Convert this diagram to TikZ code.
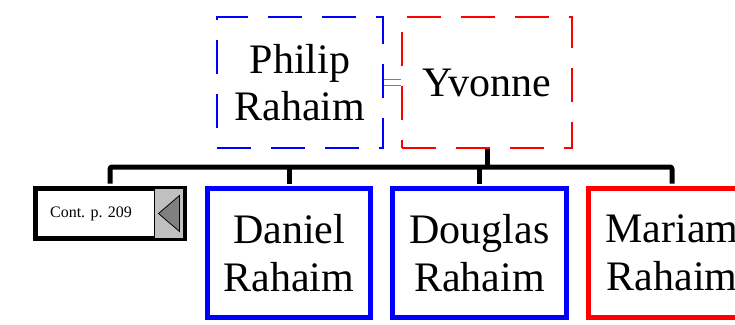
\documentclass[tikz,border=0pt]{standalone}
\usepackage{fontspec}
\setmainfont{Liberation Serif}
\usepackage{xcolor}
\usepackage{tikz}
\usetikzlibrary{calc}
\definecolor{fmblue}{RGB}{0,0,255}
\definecolor{fmred}{RGB}{255,0,0}
\definecolor{fmbox}{RGB}{192,192,192}
\definecolor{fmarrow}{RGB}{128,128,128}

\begin{document}
\begin{tikzpicture}[
  x=1pt, y=-1pt,
  every node/.style={align=center, inner sep=0pt},
  spouse/.style={draw, dash pattern=on 34pt off 20pt, line width=1.1pt, minimum height=131pt, font=\fontsize{42}{47}\selectfont},
  kid/.style={draw, line width=5pt, minimum height=129pt, font=\fontsize{42}{48}\selectfont},
  kin/.style={line width=5pt, black, line join=round}
]
\useasboundingbox (0,0) rectangle (735,324);
\clip (0,0) rectangle (735,324);
\node[spouse, fmblue, text=black, minimum width=166pt] (p) at (300,82.5) {Philip\\Rahaim};
\node[spouse, fmred, text=black, minimum width=170pt] (y) at (487,82.5) {Yvonne};
\foreach \s in {-3,3} \draw[fmarrow, line width=1.3pt] ([yshift=\s pt]p.east) -- ([yshift=\s pt]y.west);
\node[draw, line width=5pt, minimum width=149pt, minimum height=50pt] (c) at (110,213.5) {};
\node[font=\fontsize{16}{18}\selectfont] (cl) at (91,214) {Cont. p. 209};
\filldraw[fill=fmbox, line width=0.6pt] ([xshift=-32.5pt,yshift=-2.5pt]c.north east) rectangle ([xshift=-3.5pt,yshift=2.5pt]c.south east);
\filldraw[fill=fmarrow, line width=0.8pt] ([xshift=-28.5pt]c.east) -- ([xshift=-7.5pt,yshift=18pt]c.east) -- ([xshift=-7.5pt,yshift=-18pt]c.east) -- cycle;
\node[kid, fmblue, text=black, minimum width=163pt] (d) at (289,253) {Daniel\\Rahaim};
\node[kid, fmblue, text=black, minimum width=174pt] (g) at (479.5,253) {Douglas\\Rahaim};
\node[kid, fmred, text=black, minimum width=167pt] (m) at (672,253) {Mariam\\Rahaim};
\coordinate (j) at (487,167);
\draw[kin] (y.south) -- (j);
\draw[kin, rounded corners=2pt] ([yshift=2.5pt]c.north) |- (m.north |- j) -- ([yshift=2.5pt]m.north);
\foreach \x in {d,g} \draw[kin] ([yshift=2.5pt]\x.north) -- (\x.north |- j);
\end{tikzpicture}
\end{document}
